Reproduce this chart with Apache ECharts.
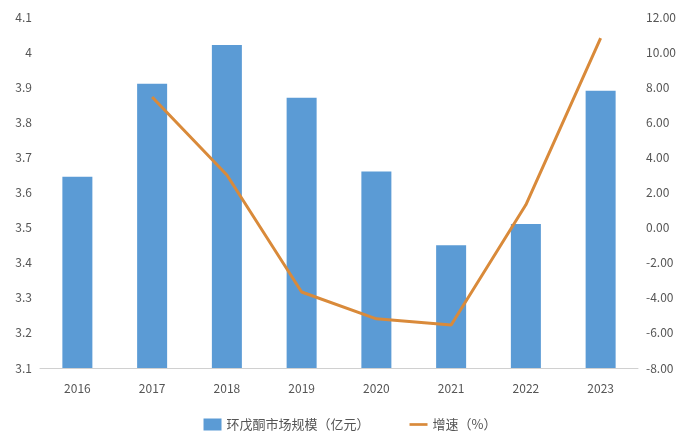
<!DOCTYPE html>
<html><head><meta charset="utf-8">
<script src="https://cdn.jsdelivr.net/npm/echarts@6/dist/echarts.min.js"></script>
<style>html,body{margin:0;background:#fff}#c{width:700px;height:442px}</style>
</head><body><div id="c"></div>
<script>
const years = ['2016', '2017', '2018', '2019', '2020', '2021', '2022', '2023'];
const marketSize = [3.645, 3.91, 4.02, 3.87, 3.66, 3.45, 3.51, 3.89];
const growth = [null, 7.44, 3.0, -3.67, -5.2, -5.55, 1.3, 10.8];

const chart = echarts.init(document.getElementById('c'));
const font = { fontFamily: 'Noto Sans CJK SC', color: '#555', fontSize: 12 };
chart.setOption({
    animation: false,
    grid: { top: 17, bottom: 74, left: 40, right: 62 },
    legend: {
        bottom: 6, itemGap: 40, textStyle: { ...font, fontSize: 13 },
        data: [
            { name: '环戊酮市场规模（亿元）', icon: 'rect' },
            { name: '增速（%）', icon: 'path://M0,0H20V3H0Z' },
        ],
        itemWidth: 18, itemHeight: 12,
    },
    xAxis: {
        type: 'category', data: years,
        axisTick: { show: false },
        axisLine: { onZero: false, lineStyle: { color: '#d0d0d0' } },
        axisLabel: { ...font, margin: 14 },
    },
    yAxis: [
        {
            type: 'value', min: 3.1, max: 4.1, interval: 0.1,
            splitLine: { show: false },
            axisLabel: { ...font, formatter: v => +v.toFixed(1) + '' },
        },
        {
            type: 'value', min: -8, max: 12, interval: 2,
            splitLine: { show: false },
            axisLabel: { ...font, formatter: v => v.toFixed(2) },
        },
    ],
    series: [
        {
            name: '环戊酮市场规模（亿元）', type: 'bar', data: marketSize,
            barWidth: 30, itemStyle: { color: '#5b9bd5' },
        },
        {
            name: '增速（%）', type: 'line', yAxisIndex: 1, data: growth,
            symbol: 'none', lineStyle: { color: '#d98a3a', width: 3 },
            itemStyle: { color: '#d98a3a' },
        },
    ],
});
</script></body></html>
